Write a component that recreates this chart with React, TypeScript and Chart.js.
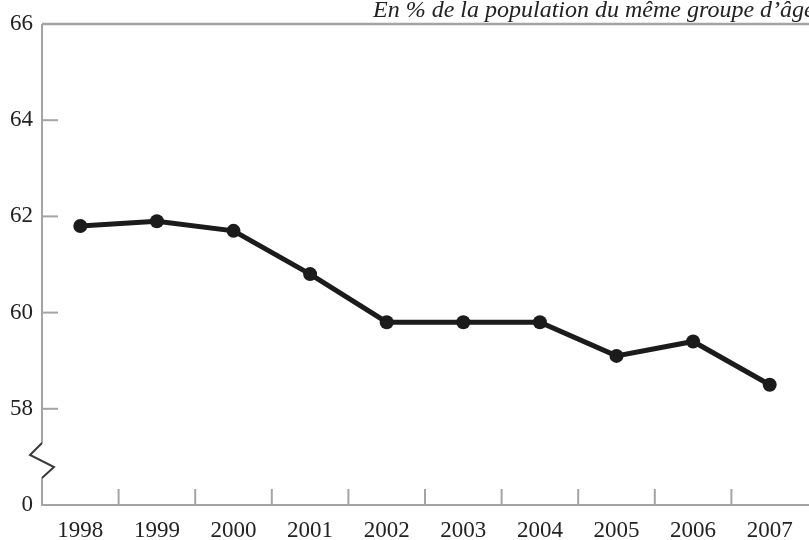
import React, { useEffect, useRef } from "react";
import { Chart, registerables } from "chart.js";

Chart.register(...registerables);

const years = ["1998", "1999", "2000", "2001", "2002", "2003", "2004", "2005", "2006", "2007"];
const shares = [61.8, 61.9, 61.7, 60.8, 59.8, 59.8, 59.8, 59.1, 59.4, 58.5];
const yTicks = [58, 60, 62, 64];
const axisFloor = 56; // shown as "0" after the axis break
const subtitle = "En % de la population du même groupe d\u2019âge";

const AXIS_GRAY = "#a4a4a4";
const INK = "#1b1b1b";
const FONT = '"Liberation Serif", "Times New Roman", serif';

const decorPlugin = {
  id: "decor",
  afterDraw(chart: any) {
    const { ctx, chartArea, scales } = chart;
    const { left, top, bottom } = chartArea;
    const x = scales.x;
    const y = scales.y;
    ctx.save();
    // top frame line
    ctx.strokeStyle = AXIS_GRAY;
    ctx.lineWidth = 2.5;
    ctx.beginPath();
    ctx.moveTo(left, top);
    ctx.lineTo(chart.width, top);
    ctx.stroke();

    // y axis with break
    const breakTop = bottom - 62;
    const breakBottom = bottom - 27;
    ctx.lineWidth = 2;
    ctx.beginPath();
    ctx.moveTo(left, top);
    ctx.lineTo(left, breakTop);
    ctx.stroke();
    ctx.beginPath();
    ctx.moveTo(left, breakBottom);
    ctx.lineTo(left, bottom);
    ctx.stroke();
    ctx.strokeStyle = "#3a3a3a";
    ctx.lineWidth = 2;
    ctx.beginPath();
    ctx.moveTo(left, breakTop);
    ctx.lineTo(left - 12, breakTop + 12);
    ctx.lineTo(left + 12, breakTop + 24);
    ctx.lineTo(left, breakBottom);
    ctx.stroke();

    // y ticks (inside)
    ctx.strokeStyle = AXIS_GRAY;
    ctx.lineWidth = 2;
    yTicks.forEach((v) => {
      const py = y.getPixelForValue(v);
      ctx.beginPath();
      ctx.moveTo(left, py);
      ctx.lineTo(left + 16, py);
      ctx.stroke();
    });

    // x ticks between categories (inside)
    for (let i = 0; i < years.length - 1; i++) {
      const px = (x.getPixelForValue(i) + x.getPixelForValue(i + 1)) / 2;
      ctx.beginPath();
      ctx.moveTo(px, bottom);
      ctx.lineTo(px, bottom - 16);
      ctx.stroke();
    }

    // subtitle
    ctx.fillStyle = "#222";
    ctx.font = "italic 24px " + FONT;
    ctx.textAlign = "left";
    ctx.textBaseline = "alphabetic";
    ctx.fillText(subtitle, 373, 17);
    ctx.restore();
  },
};

export default function App() {
  const ref = useRef<HTMLCanvasElement | null>(null);

  useEffect(() => {
    document.body.style.margin = "0";
    document.body.style.overflow = "hidden";
    document.documentElement.style.overflow = "hidden";
    const canvas = ref.current!;
    const chart = new Chart(canvas, {
      type: "line",
      data: {
        labels: years,
        datasets: [
          {
            data: shares,
            borderColor: INK,
            backgroundColor: INK,
            borderWidth: 5,
            pointRadius: 7,
            pointBackgroundColor: INK,
            pointBorderColor: INK,
            pointBorderWidth: 0,
            tension: 0,
          },
        ],
      },
      options: {
        responsive: false,
        animation: false,
        devicePixelRatio: 1,
        layout: { padding: { top: 24, right: 0, left: 0, bottom: 0 } },
        plugins: { legend: { display: false }, tooltip: { enabled: false }, title: { display: false } },
        scales: {
          x: {
            type: "category",
            offset: true,
            grid: { display: false, drawTicks: false },
            border: { display: true, color: AXIS_GRAY, width: 2 },
            ticks: {
              color: "#222",
              font: { family: FONT, size: 23 },
              padding: 12,
              maxRotation: 0,
              autoSkip: false,
            },
            afterFit: (s: any) => {
              s.height = 35;
            },
          },
          y: {
            min: axisFloor,
            max: 66,
            grid: { display: false, drawTicks: false },
            border: { display: false },
            ticks: {
              stepSize: 2,
              color: "#222",
              font: { family: FONT, size: 23 },
              padding: 9,
              callback: (v: any) => (v === axisFloor ? "0" : String(v)),
            },
            afterFit: (s: any) => {
              s.width = 42;
            },
          },
        },
      },
      plugins: [decorPlugin],
    });
    return () => chart.destroy();
  }, []);

  return (
    <div style={{ position: "absolute", left: 0, top: 0, width: 809, height: 540, overflow: "hidden" }}>
      <canvas ref={ref} width={815} height={540} style={{ display: "block", width: 815, height: 540 }} />
    </div>
  );
}
